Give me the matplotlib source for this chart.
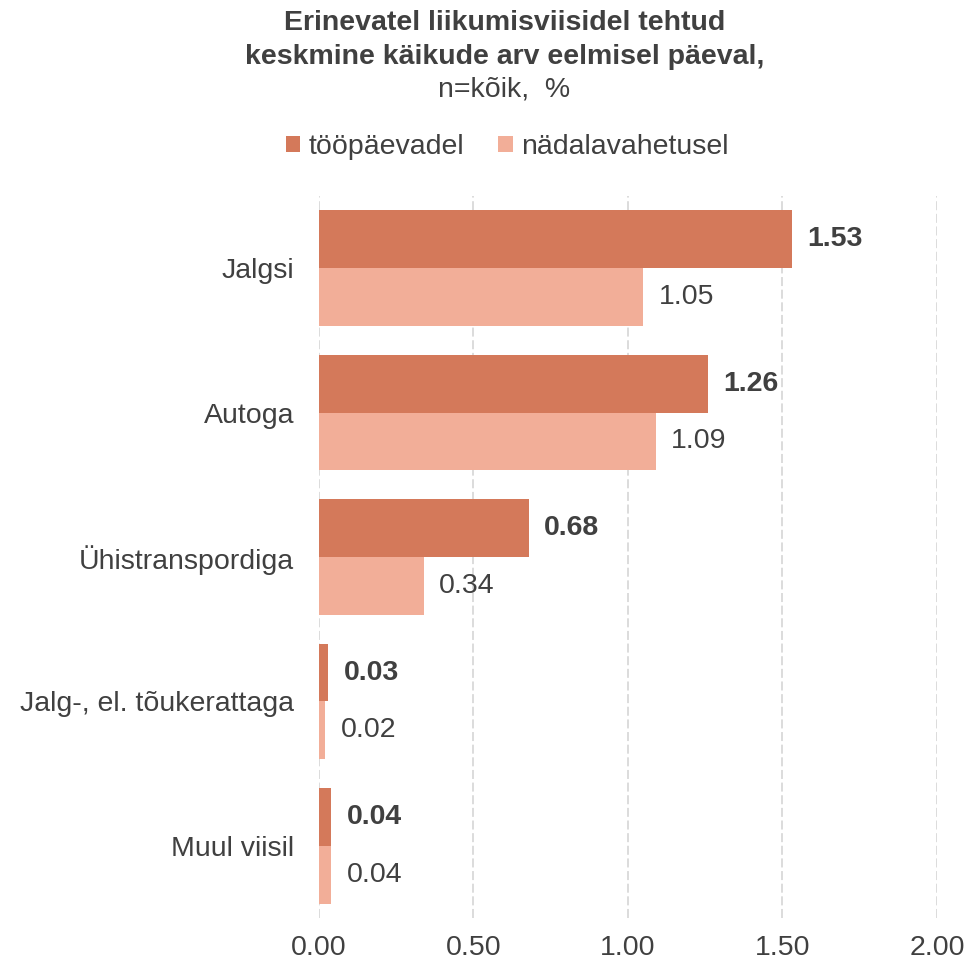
import matplotlib.pyplot as plt
import numpy as np

plt.rcParams["font.family"] = ["Liberation Sans", "DejaVu Sans"]

categories = ["Jalgsi", "Autoga", "Ühistranspordiga", "Jalg-, el. tõukerattaga", "Muul viisil"]
series_names = ["tööpäevadel", "nädalavahetusel"]
workdays = [1.53, 1.26, 0.68, 0.03, 0.04]
weekend = [1.05, 1.09, 0.34, 0.02, 0.04]
x_ticks = [0.0, 0.5, 1.0, 1.5, 2.0]

dark = "#D4795A"
light = "#F2AE98"
text_color = "#404040"
fs = 20.5

fig = plt.figure(figsize=(9.68, 9.64), dpi=100)
ax = fig.add_axes([0.3295, 0.0477, 0.6384, 0.749])

y = np.arange(len(categories))
h = 0.4
bars1 = ax.barh(y - h / 2, workdays, height=h, color=dark, label=series_names[0], zorder=3)
bars2 = ax.barh(y + h / 2, weekend, height=h, color=light, label=series_names[1], zorder=3)

for bar, val in zip(bars1, workdays):
    ax.annotate(f"{val:.2f}", (bar.get_width(), bar.get_y() + bar.get_height() / 2),
                xytext=(11, 0), textcoords="offset points", va="center", ha="left",
                fontsize=fs, fontweight="bold", color=text_color)
for bar, val in zip(bars2, weekend):
    ax.annotate(f"{val:.2f}", (bar.get_width(), bar.get_y() + bar.get_height() / 2),
                xytext=(11, 0), textcoords="offset points", va="center", ha="left",
                fontsize=fs, color=text_color)

ax.set_ylim(len(categories) - 0.5, -0.5)
ax.set_xlim(0, 2.0)
ax.set_yticks(y)
ax.set_yticklabels(categories)
ax.set_xticks(x_ticks)
ax.set_xticklabels([f"{t:.2f}" for t in x_ticks])
ax.tick_params(axis="both", length=0, labelsize=fs, colors=text_color)
ax.tick_params(axis="y", pad=18)
ax.tick_params(axis="x", pad=12)
ax.grid(axis="x", color="#D9D9D9", linestyle=(0, (5, 2)), linewidth=1.3, zorder=0)
for spine in ax.spines.values():
    spine.set_visible(False)

fig.text(0.521, 0.99, "Erinevatel liikumisviisidel tehtud\nkeskmine käikude arv eelmisel päeval,",
         ha="center", va="top", fontsize=fs, fontweight="bold", color=text_color, linespacing=1.4)
fig.text(0.521, 0.907, "n=kõik,  %", ha="center", va="center", fontsize=fs, color=text_color)

fig.legend(loc="center", bbox_to_anchor=(0.524, 0.847), ncol=2, frameon=False,
           fontsize=fs, labelcolor=text_color, handlelength=0.5, handleheight=0.5,
           handletextpad=0.3, columnspacing=1.2)

fig.savefig("out.png", dpi=100)
